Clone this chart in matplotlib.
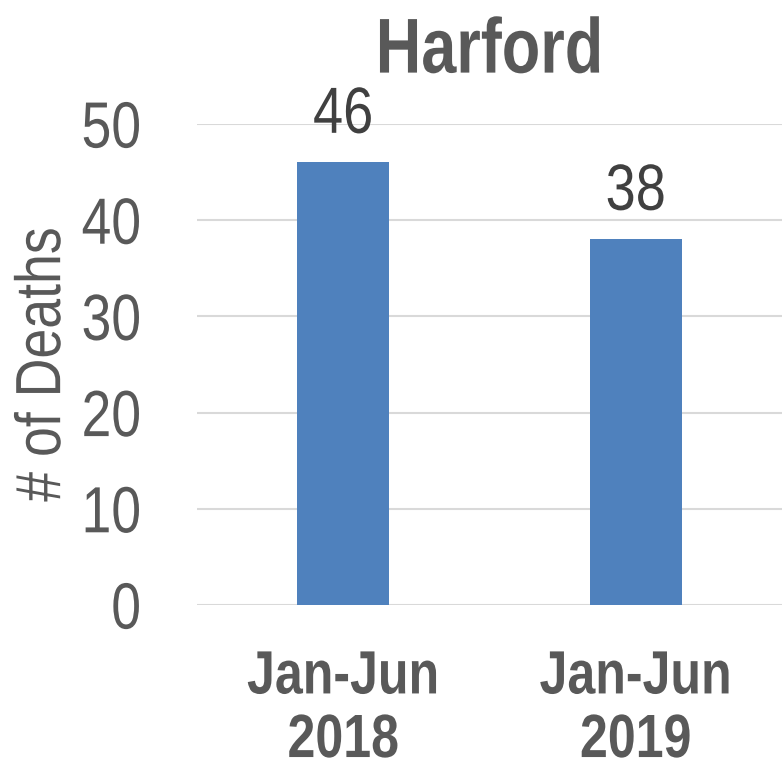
import matplotlib
matplotlib.use("Agg")
import matplotlib.pyplot as plt
from matplotlib.patheffects import AbstractPathEffect
from matplotlib.transforms import Affine2D

# Data
categories = ["Jan-Jun\n2018", "Jan-Jun\n2019"]
deaths = [46, 38]
y_ticks = [0, 10, 20, 30, 40, 50]

title = "Harford"
y_label = "# of Deaths"

plt.rcParams["font.family"] = ["Liberation Sans Narrow", "Liberation Sans", "DejaVu Sans"]

TEXT = "#595959"
LABEL = "#404040"
BAR = "#4F81BD"
GRID = "#D9D9D9"


class Condensed(AbstractPathEffect):
    """Draw glyphs narrowed horizontally, keeping an anchor edge fixed."""

    def __init__(self, sx=0.82, anchor="center"):
        super().__init__()
        self.sx = sx
        self.anchor = anchor

    def draw_path(self, renderer, gc, tpath, affine, rgbFace=None):
        ext = tpath.get_extents()
        if self.anchor == "left":
            cx = ext.x0
        elif self.anchor == "right":
            cx = ext.x1
        else:
            cx = 0.5 * (ext.x0 + ext.x1)
        t = Affine2D().translate(-cx, 0).scale(self.sx, 1).translate(cx, 0) + affine
        renderer.draw_path(gc, tpath, t, rgbFace)


fig = plt.figure(figsize=(7.82, 7.67), dpi=100)
ax = fig.add_axes([197 / 782, 1 - 605 / 767, 1 - 197 / 782, (605 - 124) / 767])

x = list(range(len(categories)))
bars = ax.bar(x, deaths, width=0.315, color=BAR, zorder=3)

ax.set_xlim(-0.5, len(categories) - 0.5)
ax.set_ylim(0, 50)
ax.set_yticks(y_ticks)
ax.set_yticklabels([str(t) for t in y_ticks])
ax.set_xticks(x)
ax.set_xticklabels(categories, fontweight="bold", linespacing=1.15)

ax.tick_params(axis="y", length=0, pad=40, labelsize=47, labelcolor=TEXT)
ax.tick_params(axis="x", length=0, pad=32, labelsize=44, labelcolor=TEXT)

for lbl in ax.get_yticklabels():
    lbl.set_path_effects([Condensed(0.82, "right")])
for lbl in ax.get_xticklabels():
    lbl.set_path_effects([Condensed(0.82, "center")])

for s in ax.spines.values():
    s.set_visible(False)
ax.yaxis.grid(True, color=GRID, linewidth=1.5, zorder=0)
ax.set_axisbelow(True)

for b, v in zip(bars, deaths):
    ax.annotate(str(v), (b.get_x() + b.get_width() / 2, v),
                xytext=(0, 12), textcoords="offset points",
                ha="center", va="bottom", fontsize=47, color=LABEL,
                path_effects=[Condensed(0.83, "center")])

ax.set_title(title, fontsize=56, fontweight="bold", color=TEXT, pad=37,
             path_effects=[Condensed(0.81, "center")])
ax.set_ylabel(y_label, fontsize=46, color=TEXT, va="center",
              path_effects=[Condensed(0.84, "center")])
ax.yaxis.set_label_coords(-0.263, 0.5)

fig.savefig("out.png", dpi=100, facecolor="white")
